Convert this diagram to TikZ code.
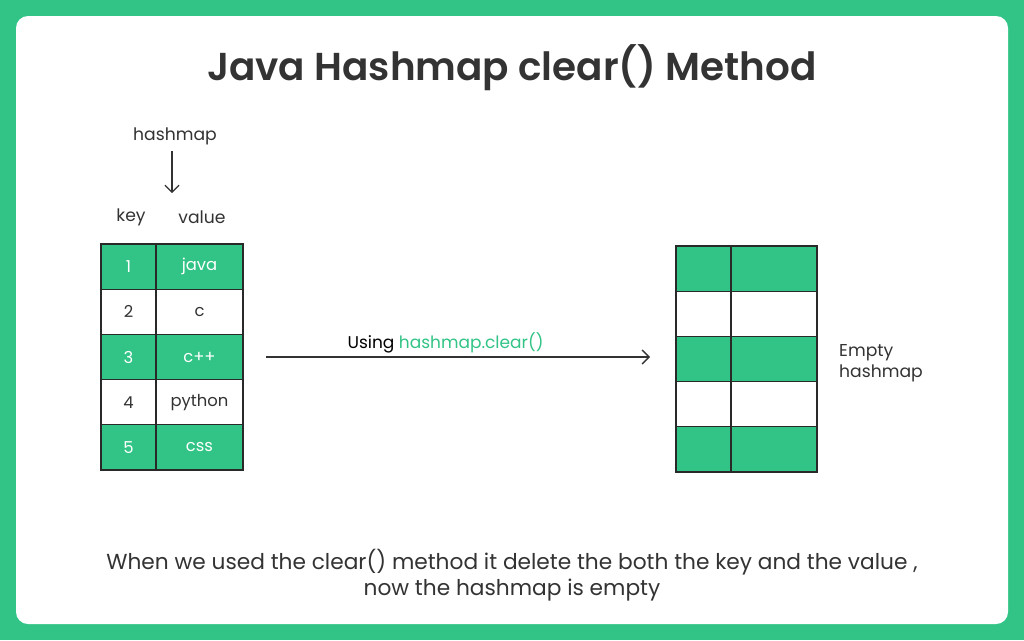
\documentclass[tikz,border=0pt]{standalone}
\usepackage{fontspec}
\setmainfont{Poppins}
\newfontfamily\titlefont{Poppins SemiBold}
\usetikzlibrary{positioning,arrows.meta}
\definecolor{gfg}{RGB}{50,196,134}
\definecolor{ink}{RGB}{51,51,51}
\tikzset{
  lbl/.style={text=ink, inner sep=2pt, font=\fontsize{17.2}{20}\selectfont},
  cell/.style={draw=ink!80!black, line width=1.2pt, minimum height=45.2pt,
               inner sep=0pt, outer sep=0pt, font=\fontsize{16.4}{19}\selectfont},
  keycell/.style={cell, minimum width=55pt},
  valcell/.style={cell, minimum width=87pt},
  full/.style={fill=gfg, text=white},
  blank/.style={fill=white, text=ink},
  arr/.style={-{Straight Barb[length=7pt,width=14pt]}, line width=1.4pt, draw=ink},
}

\begin{document}
\begin{tikzpicture}[x=1pt,y=-1pt]
  % frame
  \fill[gfg] (0,0) rectangle (1024,640);
  \fill[white, rounded corners=12pt] (16,16) rectangle (1008,624);

  \node[lbl, font=\fontsize{38.9}{46}\titlefont] (title) at (512,68) {Java Hashmap clear() Method};

  % hashmap before clear
  \node[lbl] (hm) at (175,136) {hashmap};
  \coordinate (hmtop) at (172,151);
  \coordinate (hmtip) at (172,193);
  \draw[arr, line width=1.2pt] (hmtop) -- (hmtip);
  \node[lbl] (keyl) at (131,217) {key};
  \node[lbl] (vall) at (202,217) {value};

  \node[keycell,full,anchor=north west] (k1) at (101,244) {1};
  \node[keycell,blank] (k2) [below=0pt of k1] {2};
  \node[keycell,full] (k3) [below=0pt of k2] {3};
  \node[keycell,blank] (k4) [below=0pt of k3] {4};
  \node[keycell,full] (k5) [below=0pt of k4] {5};
  \node[valcell,full] (v1) [right=0pt of k1] {java};
  \node[valcell,blank] (v2) [right=0pt of k2] {c};
  \node[valcell,full] (v3) [right=0pt of k3] {c++};
  \node[valcell,blank] (v4) [right=0pt of k4] {python};
  \node[valcell,full] (v5) [right=0pt of k5] {css};

  % hashmap after clear
  \node[keycell,full,anchor=north west] (e1) at (676,246) {};
  \node[keycell,blank] (e2) [below=0pt of e1] {};
  \node[keycell,full] (e3) [below=0pt of e2] {};
  \node[keycell,blank] (e4) [below=0pt of e3] {};
  \node[keycell,full] (e5) [below=0pt of e4] {};
  \node[valcell,full,minimum width=86pt] (f1) [right=0pt of e1] {};
  \node[valcell,blank,minimum width=86pt] (f2) [right=0pt of e2] {};
  \node[valcell,full,minimum width=86pt] (f3) [right=0pt of e3] {};
  \node[valcell,blank,minimum width=86pt] (f4) [right=0pt of e4] {};
  \node[valcell,full,minimum width=86pt] (f5) [right=0pt of e5] {};
  \node[lbl, align=left, anchor=west, font=\fontsize{17.2}{21}\selectfont, yshift=-4pt] (empty) [right=20pt of f3] {Empty\\hashmap};

  \draw[arr, shorten <=23pt, shorten >=26pt] (v3.east) -- (v3.east -| e3.west)
    node[midway, above=1pt, xshift=-14pt, lbl, font=\fontsize{17}{20}\selectfont, text=black] {Using \textcolor{gfg}{hashmap.clear()}};

  \node[lbl, align=center, font=\fontsize{21.7}{26}\selectfont] (note) at (512,575)
    {When we used the clear() method it delete the both the key and the value ,\\now the hashmap is empty};
\end{tikzpicture}
\end{document}
